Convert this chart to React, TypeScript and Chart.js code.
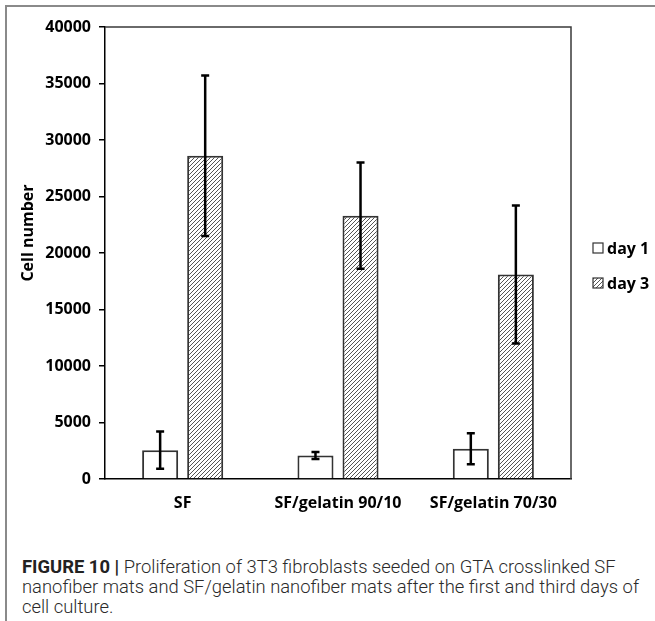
import { useEffect, useRef } from "react";
import { Chart, registerables } from "chart.js";

Chart.register(...registerables);

// Cell counts per scaffold (mean and standard deviation)
const categories = ["SF", "SF/gelatin 90/10", "SF/gelatin 70/30"];
const seriesLabels = ["day 1", "day 3"];
const day1Values = [2550, 2080, 2680];
const day1Errors = [1650, 300, 1370];
const day3Values = [28600, 23300, 18100];
const day3Errors = [7100, 4700, 6100];
const yMin = 0;
const yMax = 40000;
const yStep = 5000;
const yTitle = "Cell number";

const captionLead = "FIGURE 10 |";
const captionLines = [
  "Proliferation of 3T3 fibroblasts seeded on GTA crosslinked SF",
  "nanofiber mats and SF/gelatin nanofiber mats after the first and third days of",
  "cell culture.",
];

const fontFamily = "'Open Sans', 'DejaVu Sans', sans-serif";
const tickFont = { family: fontFamily, size: 16, weight: "bold" as const };

function makeHatch(): CanvasPattern | string {
  const size = 4;
  const c = document.createElement("canvas");
  c.width = size;
  c.height = size;
  const g = c.getContext("2d");
  if (!g) return "#999";
  g.fillStyle = "#ffffff";
  g.fillRect(0, 0, size, size);
  g.strokeStyle = "#555555";
  g.lineWidth = 1;
  g.beginPath();
  g.moveTo(-1, size + 1);
  g.lineTo(size + 1, -1);
  g.moveTo(-1, 1);
  g.lineTo(1, -1);
  g.moveTo(size - 1, size + 1);
  g.lineTo(size + 1, size - 1);
  g.stroke();
  const p = g.createPattern(c, "repeat");
  return p ?? "#999";
}

export default function App() {
  const canvasRef = useRef<HTMLCanvasElement | null>(null);

  useEffect(() => {
    const canvas = canvasRef.current;
    if (!canvas) return;
    const hatch = makeHatch();
    const errors = [day1Errors, day3Errors];

    const errorBars = {
      id: "errorBars",
      afterDatasetsDraw(chart: any) {
        const { ctx } = chart;
        const y = chart.scales.y;
        ctx.save();
        ctx.strokeStyle = "#000";
        ctx.lineWidth = 2.5;
        chart.data.datasets.forEach((ds: any, i: number) => {
          const meta = chart.getDatasetMeta(i);
          meta.data.forEach((el: any, j: number) => {
            const v = ds.data[j];
            const e = errors[i][j];
            const top = y.getPixelForValue(v + e);
            const bot = y.getPixelForValue(v - e);
            ctx.beginPath();
            ctx.moveTo(el.x, top);
            ctx.lineTo(el.x, bot);
            ctx.moveTo(el.x - 4, top);
            ctx.lineTo(el.x + 4, top);
            ctx.moveTo(el.x - 4, bot);
            ctx.lineTo(el.x + 4, bot);
            ctx.stroke();
          });
        });
        ctx.restore();
      },
    };

    const frame = {
      id: "frame",
      afterDraw(chart: any) {
        const { ctx, chartArea: a } = chart;
        ctx.save();
        // top and right edges of the plot box
        ctx.strokeStyle = "#3a3a3a";
        ctx.lineWidth = 1.5;
        ctx.beginPath();
        ctx.moveTo(a.left, a.top);
        ctx.lineTo(a.right, a.top);
        ctx.lineTo(a.right, a.bottom);
        ctx.stroke();

        // rotated axis title
        ctx.fillStyle = "#000";
        ctx.font = `bold 16px ${fontFamily}`;
        ctx.textAlign = "center";
        ctx.textBaseline = "middle";
        ctx.translate(28, (a.top + a.bottom) / 2 - 20);
        ctx.rotate(-Math.PI / 2);
        ctx.fillText(yTitle, 0, 0);
        ctx.restore();

        // legend
        ctx.save();
        const lx = a.right + 22;
        const cy = (a.top + a.bottom) / 2;
        const rows = [cy - 5, cy + 30];
        ctx.font = `bold 16px ${fontFamily}`;
        ctx.textAlign = "left";
        ctx.textBaseline = "middle";
        chart.data.datasets.forEach((ds: any, i: number) => {
          const yy = rows[i];
          ctx.fillStyle = ds.backgroundColor;
          ctx.fillRect(lx, yy - 5, 10, 10);
          ctx.strokeStyle = "#333";
          ctx.lineWidth = 1.2;
          ctx.strokeRect(lx, yy - 5, 10, 10);
          ctx.fillStyle = "#000";
          ctx.fillText(ds.label, lx + 14, yy + 1);
        });
        ctx.restore();
      },
    };

    const chart = new Chart(canvas, {
      type: "bar",
      data: {
        labels: categories,
        datasets: [
          {
            label: seriesLabels[0],
            data: day1Values,
            backgroundColor: "#ffffff",
            borderColor: "#333333",
            borderWidth: 2,
            categoryPercentage: 0.58,
            barPercentage: 0.8,
          },
          {
            label: seriesLabels[1],
            data: day3Values,
            backgroundColor: hatch as any,
            borderColor: "#333333",
            borderWidth: 2,
            categoryPercentage: 0.58,
            barPercentage: 0.8,
          },
        ],
      },
      options: {
        animation: false,
        responsive: false,
        maintainAspectRatio: false,
        layout: { padding: { left: 0, top: 27, right: 84, bottom: 0 } },
        plugins: {
          legend: { display: false },
          tooltip: { enabled: false },
        },
        scales: {
          x: {
            grid: { display: false },
            border: { display: true, color: "#000", width: 1.5 },
            ticks: { color: "#000", font: tickFont, padding: 7 },
            afterFit(scale: any) {
              scale.height = 51;
            },
          },
          y: {
            min: yMin,
            max: yMax,
            ticks: {
              stepSize: yStep,
              color: "#000",
              font: tickFont,
              padding: 8,
              callback: (v: any) => String(v),
            },
            grid: { drawOnChartArea: false, drawTicks: true, tickLength: 6, color: "#000", lineWidth: 1.5 },
            border: { display: true, color: "#000", width: 1.5 },
            afterFit(scale: any) {
              scale.width = 105;
            },
          },
        },
      },
      plugins: [errorBars, frame],
    });
    return () => chart.destroy();
  }, []);

  return (
    <div style={{ position: "absolute", left: 0, top: 0, width: 655, height: 621, background: "#fff", overflow: "hidden" }}>
      <div style={{ position: "absolute", left: 5, top: 5, width: 650, height: 2, background: "#8a8a8a" }} />
      <div style={{ position: "absolute", left: 5, top: 5, width: 2, height: 616, background: "#8a8a8a" }} />
      <canvas ref={canvasRef} width={655} height={530} style={{ position: "absolute", left: 0, top: 0 }} />
      <div
        style={{
          position: "absolute",
          left: 22,
          top: 557,
          fontFamily: "Roboto, 'Liberation Sans', Arial, sans-serif",
          fontWeight: 300,
          fontSize: 18.4,
          lineHeight: "20px",
          color: "#2a2a2a",
          whiteSpace: "nowrap",
        }}
      >
        <span style={{ fontWeight: 700, color: "#222" }}>{captionLead}</span> {captionLines[0]}
        <br />
        {captionLines[1]}
        <br />
        {captionLines[2]}
      </div>
    </div>
  );
}
